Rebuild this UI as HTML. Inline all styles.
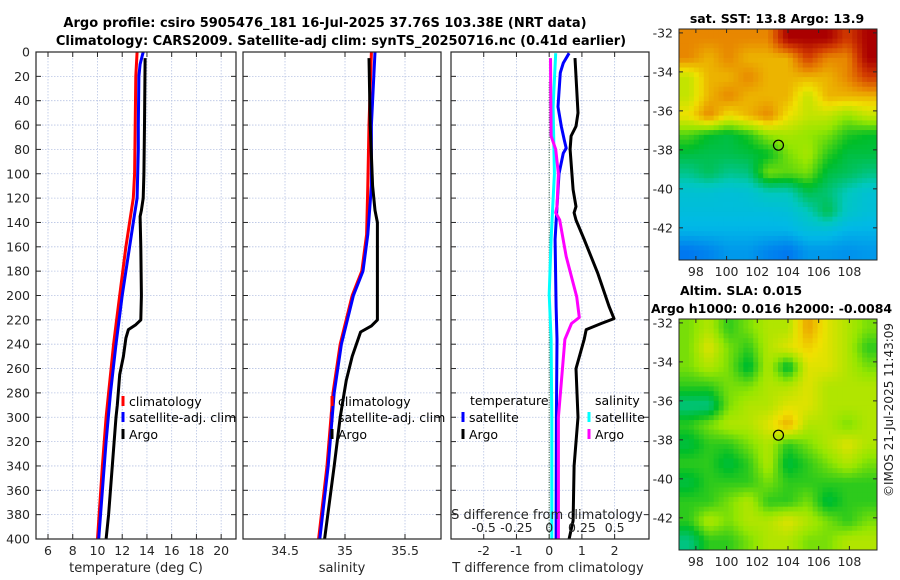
<!DOCTYPE html>
<html><head><meta charset="utf-8">
<style>
html,body{margin:0;padding:0;background:#fff;}
svg{display:block;font-family:"DejaVu Sans","Liberation Sans",sans-serif;}
</style></head>
<body>
<svg id="fig" width="900" height="580" viewBox="0 0 900 580" xmlns="http://www.w3.org/2000/svg">
<rect width="900" height="580" fill="#fff"/>
<text x="325" y="27" text-anchor="middle" font-size="13" font-weight="bold" fill="#000">Argo profile: csiro 5905476_181 16-Jul-2025 37.76S 103.38E (NRT data)</text>
<text x="341" y="45" text-anchor="middle" font-size="13" font-weight="bold" fill="#000">Climatology: CARS2009. Satellite-adj clim: synTS_20250716.nc (0.41d earlier)</text>
<text x="777" y="23" text-anchor="middle" font-size="12.5" font-weight="bold" fill="#000">sat. SST: 13.8 Argo: 13.9</text>
<text x="680" y="295" font-size="12.5" font-weight="bold" fill="#000">Altim. SLA: 0.015</text>
<text x="651" y="313" font-size="12.5" font-weight="bold" fill="#000">Argo h1000: 0.016 h2000: -0.0084</text>
<text transform="translate(893,410) rotate(-90)" text-anchor="middle" font-size="12" fill="#222">©IMOS 21-Jul-2025 11:43:09</text>
<g id="plots"></g>
</svg>
<script>
// ---------- profile data ----------
const redDepth  = [0,20,60,100,120,140,160,180,200,220,240,260,280,300,340,400];
const redTemp   = [13.2,13.1,13.05,13.0,12.9,12.6,12.3,12.05,11.8,11.55,11.3,11.1,10.9,10.7,10.4,10.0];
const blueDepth = [0,10,20,60,80,100,120,140,160,180,200,240,280,320,360,400];
const blueTemp  = [13.7,13.45,13.35,13.3,13.3,13.25,13.2,12.9,12.6,12.3,12.0,11.5,11.05,10.7,10.4,10.1];
const argoDepth = [5,60,100,120,130,135,160,200,220,224,228,235,250,265,290,300,340,380,400];
const argoTemp  = [13.85,13.8,13.75,13.7,13.55,13.45,13.5,13.55,13.5,13.1,12.5,12.3,12.1,11.8,11.6,11.5,11.2,10.9,10.7];

const salDepthClim = [0,60,110,150,180,200,240,280,340,400];
const redSal   = [35.22,35.2,35.19,35.18,35.14,35.06,34.96,34.9,34.85,34.78];
const blueSal  = [35.25,35.22,35.22,35.19,35.15,35.07,34.97,34.91,34.86,34.79];
const argoSalDepth = [5,60,110,130,140,180,220,225,230,250,270,300,340,400];
const argoSal  = [35.2,35.21,35.23,35.25,35.27,35.27,35.27,35.22,35.13,35.06,35.01,34.96,34.91,34.83];

const dTDepthSat = [1,9,17,45,61,72,79,83,100,127,154,209,236,300,400];
const dTSat      = [0.61,0.43,0.34,0.27,0.37,0.46,0.52,0.43,0.3,0.24,0.18,0.21,0.24,0.22,0.21];
const dTDepthArgo = [5,50,61,69,80,113,127,132,138,154,182,209,219,223,228,236,260,300,340,385,400];
const dTArgo      = [0.79,0.88,0.82,0.67,0.64,0.73,0.82,0.76,0.82,1.07,1.49,1.83,1.98,1.59,1.13,1.07,0.82,0.88,0.76,0.73,0.61];
const dSDepthArgo = [5,69,80,100,127,132,138,168,201,218,223,236,300,400];
const dSArgo      = [0.01,0.015,0.05,0.07,0.06,0.05,0.08,0.13,0.21,0.23,0.17,0.12,0.07,0.07];
const dSDepthSat  = [1,45,100,154,199,236,300,400];
const dSSat       = [0.05,0.03,0.04,0.015,0.0,0.015,0.02,0.02];

const depthTicks = [0,20,40,60,80,100,120,140,160,180,200,220,240,260,280,300,320,340,360,380,400];
const tempTicks = [6,8,10,12,14,16,18,20];
const salTicks = [34.5,35,35.5];
const salTickLabels = ["34.5","35","35.5"];
const dTTicks = [-2,-1,0,1,2];
const dSTicks = [-0.5,-0.25,0,0.25,0.5];
const dSTickLabels = ["-0.5","-0.25","0","0.25","0.5"];

// ---------- map data (colour index 0..10) ----------
const sstGrid = [
[8,8,8,8,8,10,10,10,9,10],
[8,7.5,8,7.5,7.5,7.5,9,8,8,10],
[6.5,7.5,7.5,8,7.5,7.5,7.5,7.5,8,9],
[6.5,7.5,8,7.5,7.5,7.5,6.5,7.5,7.5,7.5],
[7,8,7,7.5,8,7,6.5,6.5,6,6.5],
[5.5,5,4.8,5.2,6,6.2,6,5.8,5.2,5],
[4.8,4.7,4.7,4.8,5,5.8,6.2,5.3,4.8,4.8],
[4.2,4.6,4.2,4.3,5.8,5.6,5.8,4.8,4.6,4.3],
[3.4,3.4,3.3,3.4,3.8,3.8,4.7,4.4,3.8,3.4],
[3.2,3.2,3.2,3.2,3.2,3.3,3.8,4.7,3.6,3.3],
[2.9,2.9,2.9,2.9,2.9,2.9,3.2,3.2,2.9,2.9],
[2,2.2,2.5,2.5,2.2,2,2.5,2.5,2.4,2.5]];
const slaGrid = [
[5.8,6.3,5.3,5.8,6.3,6.3,7.7,6.8,6.3,5.8],
[5.8,6.8,5.8,5.3,6.3,6.8,7.2,6.8,6.3,5.3],
[5.8,6.3,5.8,4.8,6.3,4.8,6.8,6.8,6.3,5.8],
[5.3,5.3,5.8,5.8,6.3,6.3,6.8,6.3,6.3,6.3],
[4.3,4.3,5.8,6.3,6.3,6.8,6.8,6.3,6.3,6.3],
[5.3,5.8,6.3,6.3,6.8,7.6,6.3,6.3,5.8,6.3],
[4.8,5.3,5.3,5.8,6.3,5.3,5.8,6.3,6.8,6.3],
[5.3,5.3,4.8,5.3,6.3,4.8,5.3,5.8,6.3,5.8],
[4.8,5.3,5.3,5.3,5.8,5.3,5.3,5.3,5.3,5.3],
[5.3,5.3,5.8,6.3,5.3,5.3,5.8,4.8,5.3,5.3],
[5.3,6.3,5.8,6.3,6.3,6.8,6.3,5.8,5.3,5.8],
[4.3,5.3,5.3,5.8,6.3,6.3,5.8,5.8,6.3,6.3]];
const lonTicks = [98,100,102,104,106,108];
const latTicks = [-32,-34,-36,-38,-40,-42];
const argoLon = 103.38, argoLat = -37.76;

const NS = "http://www.w3.org/2000/svg";
const root = document.getElementById('plots');
function el(tag, attrs, parent){
  const e = document.createElementNS(NS, tag);
  for (const k in attrs) e.setAttribute(k, attrs[k]);
  (parent||root).appendChild(e);
  return e;
}
function txt(x,y,s,anchor,size,parent,fill){
  const t = el('text',{x:x,y:y,'text-anchor':anchor||'middle','font-size':size||12,fill:fill||'#262626'},parent);
  t.textContent = s; return t;
}
const Y0=52, Y1=539;
function yD(d){ return Y0 + d/400*(Y1-Y0); }
function lin(d0,d1,r0,r1){ return v => r0 + (v-d0)/(d1-d0)*(r1-r0); }

function panel(name, x0, x1, xs, xticks){
  const g = el('g',{});
  
  
  xticks.forEach(v=>{ const x=xs(v);
    el('line',{x1:x,x2:x,y1:Y0,y2:Y1,stroke:'#b8c4e4','stroke-width':0.8,'stroke-dasharray':'1.5,1.5'},g);
    el('line',{x1:x,x2:x,y1:Y0,y2:Y0+5,stroke:'#262626','stroke-width':1},g);
    el('line',{x1:x,x2:x,y1:Y1,y2:Y1-5,stroke:'#262626','stroke-width':1},g);
  });
  depthTicks.forEach(d=>{ const y=yD(d);
    el('line',{x1:x0,x2:x1,y1:y,y2:y,stroke:'#b8c4e4','stroke-width':0.8,'stroke-dasharray':'1.5,1.5'},g);
    el('line',{x1:x0,x2:x0+5,y1:y,y2:y,stroke:'#262626','stroke-width':1},g);
    el('line',{x1:x1,x2:x1-5,y1:y,y2:y,stroke:'#262626','stroke-width':1},g);
  });
  return g;
}
function frame(g,x0,x1){ el('rect',{x:x0,y:Y0,width:x1-x0,height:Y1-Y0,fill:'none',stroke:'#262626','stroke-width':1.2},g); }
function line(g, depths, vals, xs, color, w, name){
  const pts = depths.map((d,i)=> xs(vals[i]).toFixed(1)+','+yD(d).toFixed(1)).join(' ');
  const p = el('polyline',{points:pts,fill:'none',stroke:color,'stroke-width':w||3,'stroke-linejoin':'round'},g);
  
  
  return p;
}
function legend(g, x, y, color, label){
  el('rect',{x:x-1.5,y:y-10,width:3,height:10,fill:color},g);
  txt(x+6,y,label,'start',12.5,g,'#000');
}

// Panel 1 temperature
const xT = lin(5.03,21.2,36,236);
const g1 = panel('temperature-panel',36,236,xT,tempTicks);
line(g1, redDepth, redTemp, xT, '#ff0000', 3, 'climatology-temp-line');
line(g1, blueDepth, blueTemp, xT, '#0000ff', 3, 'satellite-temp-line');
line(g1, argoDepth, argoTemp, xT, '#000000', 3, 'argo-temp-line');
frame(g1,36,236);
depthTicks.forEach(d=>{ txt(30, yD(d)+4.5, String(d), 'end', 12.5, g1); });
tempTicks.forEach(v=>{ txt(xT(v), 555, String(v), 'middle', 12.5, g1); });
txt(136, 572, 'temperature (deg C)', 'middle', 13, g1);
legend(g1,123,406,'#ff0000','climatology');
legend(g1,123,422,'#0000ff','satellite-adj. clim');
legend(g1,123,439,'#000000','Argo');

// Panel 2 salinity
const xS = lin(34.15,35.8,243,441);
const g2 = panel('salinity-panel',243,441,xS,salTicks);
line(g2, salDepthClim, redSal, xS, '#ff0000', 3, 'climatology-salinity-line');
line(g2, salDepthClim, blueSal, xS, '#0000ff', 3, 'satellite-salinity-line');
line(g2, argoSalDepth, argoSal, xS, '#000000', 3, 'argo-salinity-line');
frame(g2,243,441);
salTicks.forEach((v,i)=>{ txt(xS(v), 555, salTickLabels[i], 'middle', 12.5, g2); });
txt(342, 572, 'salinity', 'middle', 13, g2);
legend(g2,332,406,'#ff0000','climatology');
legend(g2,332,422,'#0000ff','satellite-adj. clim');
legend(g2,332,439,'#000000','Argo');

// Panel 3 differences
const xDT = lin(-3,3.05,451,649);
const xDS = v => xDT(0) + v*131;
const g3 = panel('difference-panel',451,649,xDT,dTTicks);
el('line',{x1:xDT(0),x2:xDT(0),y1:Y0+30,y2:Y1,stroke:'#2a5a2a','stroke-width':1,'stroke-dasharray':'1,1.5'},g3);
line(g3, dSDepthSat, dSSat, xDS, '#00ffff', 3, 'satellite-salinity-diff-line');
line(g3, dTDepthSat, dTSat, xDT, '#0000ff', 3, 'satellite-temp-diff-line');
line(g3, dSDepthArgo, dSArgo, xDS, '#ff00ff', 3, 'argo-salinity-diff-line');
line(g3, dTDepthArgo, dTArgo, xDT, '#000000', 3, 'argo-temp-diff-line');
frame(g3,451,649);
dTTicks.forEach(v=>{ txt(xDT(v), 555, String(v), 'middle', 12.5, g3); });
txt(548, 572, 'T difference from climatology', 'middle', 13, g3);
dSTicks.forEach((v,i)=>{ txt(xDS(v), 532, dSTickLabels[i], 'middle', 12.5, g3); });
txt(547, 519, 'S difference from climatology', 'middle', 13, g3);
txt(470, 405, 'temperature', 'start', 12.5, g3, '#000');
legend(g3,463,422,'#0000ff','satellite');
legend(g3,463,439,'#000000','Argo');
txt(595, 405, 'salinity', 'start', 12.5, g3, '#000');
legend(g3,589,422,'#00ffff','satellite');
legend(g3,589,439,'#ff00ff','Argo');

// ---------- maps ----------
const stops = [[0,[0,40,180]],[0.2,[0,120,240]],[0.3,[0,185,230]],[0.38,[0,200,190]],[0.5,[0,190,40]],[0.6,[150,230,0]],[0.7,[240,225,0]],[0.8,[232,135,0]],[0.9,[210,60,0]],[1,[170,0,0]]];
function cmap(v){
  const t = Math.max(0,Math.min(1,v/10));
  for (let i=1;i<stops.length;i++){ if (t<=stops[i][0]){
    const a=stops[i-1], b=stops[i], f=(t-a[0])/(b[0]-a[0]);
    const c=a[1].map((x,k)=>Math.round(x+(b[1][k]-x)*f));
    return 'rgb('+c.join(',')+')'; } }
  return 'rgb(170,0,0)';
}
function map(name, grid, top, bottom, latTop, latBot){
  const L=679, R=877, lonL=96.9, lonR=109.8;
  const g = el('g',{});
  
  
  const xm = lin(lonL,lonR,L,R), ym = lin(latTop,latBot,top,bottom);
  const rows=grid.length, cols=grid[0].length;
  const sub=4, cw=(R-L)/(cols*sub), ch=(bottom-top)/(rows*sub);
  for (let i=0;i<rows*sub;i++) for (let j=0;j<cols*sub;j++){
    const fy=(i+0.5)/sub-0.5, fx=(j+0.5)/sub-0.5;
    const i0=Math.max(0,Math.min(rows-1,Math.floor(fy))), j0=Math.max(0,Math.min(cols-1,Math.floor(fx)));
    const i1=Math.min(rows-1,i0+1), j1=Math.min(cols-1,j0+1);
    const ty=Math.max(0,Math.min(1,fy-i0)), tx=Math.max(0,Math.min(1,fx-j0));
    const v = grid[i0][j0]*(1-tx)*(1-ty)+grid[i0][j1]*tx*(1-ty)+grid[i1][j0]*(1-tx)*ty+grid[i1][j1]*tx*ty;
    const r = el('rect',{x:(L+j*cw).toFixed(2),y:(top+i*ch).toFixed(2),width:(cw+0.5).toFixed(2),height:(ch+0.5).toFixed(2),fill:cmap(v)},g);
    
    
  }
  el('rect',{x:L,y:top,width:R-L,height:bottom-top,fill:'none',stroke:'#262626','stroke-width':1},g);
  lonTicks.forEach(v=>{ const x=xm(v);
    el('line',{x1:x,x2:x,y1:top,y2:top+4,stroke:'#262626'},g);
    el('line',{x1:x,x2:x,y1:bottom,y2:bottom-4,stroke:'#262626'},g);
    txt(x, bottom+16, String(v), 'middle', 12.5, g); });
  latTicks.forEach(v=>{ const y=ym(v);
    el('line',{x1:L,x2:L+4,y1:y,y2:y,stroke:'#262626'},g);
    el('line',{x1:R,x2:R-4,y1:y,y2:y,stroke:'#262626'},g);
    txt(L-6, y+4.5, String(v), 'end', 12.5, g); });
  const c = el('circle',{cx:xm(argoLon),cy:ym(argoLat),r:5,fill:'none',stroke:'#000','stroke-width':1.2},g);
  
  
}
map('sst-map', sstGrid, 29, 260, -31.8, -43.65);
map('sla-map', slaGrid, 319, 550, -31.8, -43.65);
</script>
</body></html>
